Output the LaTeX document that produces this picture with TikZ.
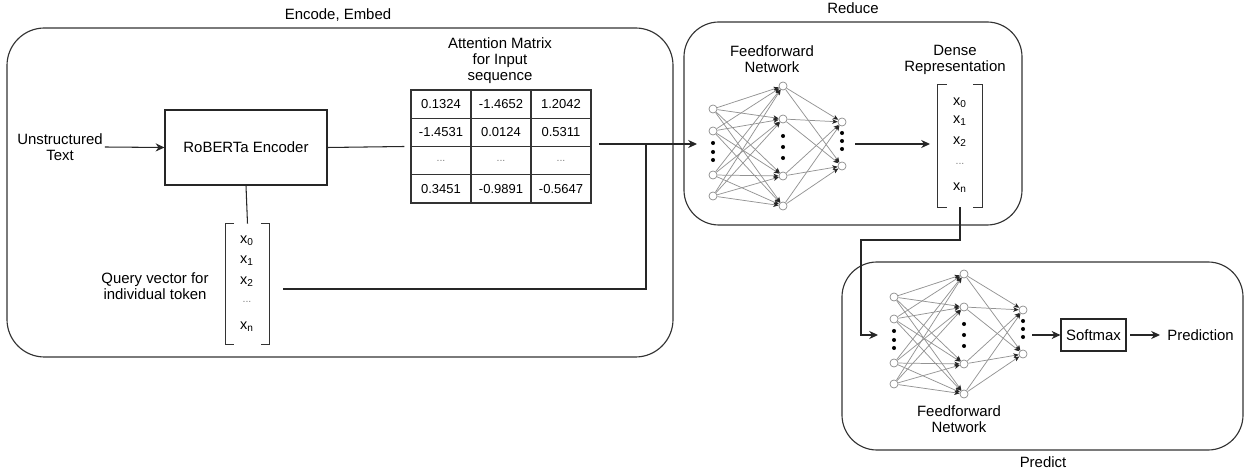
\documentclass[tikz,border=0pt]{standalone}
\usepackage{fontspec}
\setmainfont{Liberation Sans}
\usetikzlibrary{arrows.meta,matrix}

% small feed-forward network: 4 inputs, 4 hidden, 2 outputs
% #1 name prefix, #2/#3 position of the first input neuron
\newcommand{\ffnet}[3]{%
\begin{scope}[shift={(#2,#3)}]
  \foreach \k/\yy in {1/0,2/22,3/66,4/87}{\node[neuron] (#1a\k) at (0,\yy) {};}
  \foreach \k/\yy in {1/-23,2/10,3/67,4/97}{\node[neuron] (#1b\k) at (70,\yy) {};}
  \foreach \k/\yy in {1/13,2/57}{\node[neuron] (#1c\k) at (129,\yy) {};}
  \foreach \xx/\yy in {0/34,0/43,0/51,70/27,70/38,70/49,129/24,129/32,129/40}
    {\fill (\xx,\yy) circle[radius=1.15pt];}
  \foreach \i in {1,...,4}{\foreach \j in {1,...,4}{\draw[nnedge] (#1a\i) -- (#1b\j);}}
  \foreach \i in {1,...,4}{\foreach \j in {1,2}{\draw[nnedge] (#1b\i) -- (#1c\j);}}
\end{scope}}

\begin{document}
\begin{tikzpicture}[x=0.02cm,y=-0.02cm,
  font=\fontsize{8.5}{9.1}\selectfont,
  group/.style={draw=black!80, line width=0.65pt, rounded corners=0.75cm},
  conn/.style={draw=black!85, line width=0.6pt},
  arr/.style={conn, -{Stealth[length=5pt,width=4.6pt,inset=1.6pt]}},
  lbl/.style={align=center, inner sep=1pt},
  neuron/.style={circle, draw=gray!90, fill=white, minimum size=4.6pt, inner sep=0pt, line width=0.4pt},
  nnedge/.style={draw=gray!85, line width=0.42pt, -{Stealth[length=3pt,width=2.6pt,inset=0.8pt,black!85]}},
  cell/.style={draw=black!80, line width=0.6pt, minimum width=1.2cm, minimum height=0.565cm, inner sep=0pt,
               font=\fontsize{7.4}{8}\selectfont},
  gapcell/.style={text=gray, font=\fontsize{6}{7}\selectfont},
  vecbox/.style={minimum width=0.88cm, inner sep=0pt},
  vecitem/.style={font=\fontsize{8.2}{9}\selectfont, inner sep=0.5pt},
  bracket/.style={draw=black!80, line width=0.65pt},
  boxnode/.style={draw=black!85, line width=0.65pt, inner sep=0pt}
]
\useasboundingbox (0,0) rectangle (1245,469);

% stage frames
\draw[group] (7,28) rectangle (673,357);
\draw[group,rounded corners=0.7cm] (684,22) rectangle (1022,225);
\draw[group,rounded corners=0.7cm] (842,262) rectangle (1243,450);
\node[lbl] (tenc) at (338,15) {Encode, Embed};
\node[lbl] (tred) at (853,8) {Reduce};
\node[lbl] (tpre) at (1043,462) {Predict};

% encoder stage
\node[lbl] (utext) at (60,147) {Unstructured\\Text};
\node[boxnode, minimum width=3.24cm, minimum height=1.5cm] (rob) at (246,147.5) {RoBERTa Encoder};
\node[lbl] (attlbl) at (500,61) {Attention Matrix\\for Input\\sequence};
\matrix (att) [matrix of nodes, nodes={cell}, column sep=-0.6pt, row sep=-0.6pt] at (501,146.5) {
  0.1324 & -1.4652 & 1.2042 \\
  -1.4531 & 0.0124 & 0.5311 \\
  |[gapcell]| ... & |[gapcell]| ... & |[gapcell]| ... \\
  0.3451 & -0.9891 & -0.5647 \\
};
\node[lbl] (qlbl) at (155,286) {Query vector for\\individual token};

% query vector
\node[vecbox, minimum height=2.4cm] (qvec) at (247.5,284) {};
\draw[bracket] ([xshift=0.18cm]qvec.north west) -- (qvec.north west) -- (qvec.south west) -- ([xshift=0.18cm]qvec.south west);
\draw[bracket] ([xshift=-0.18cm]qvec.north east) -- (qvec.north east) -- (qvec.south east) -- ([xshift=-0.18cm]qvec.south east);
\node[vecitem] (q0) at (247,241) {x\textsubscript{0}};
\node[vecitem] (q1) at (247,261) {x\textsubscript{1}};
\node[vecitem] (q2) at (247,282) {x\textsubscript{2}};
\node[vecitem, gapcell] (q3) at (247,302) {...};
\node[vecitem] (q4) at (247,327) {x\textsubscript{n}};

\draw[arr] (utext.east) -- (rob.west);
\draw[conn] (rob.east) -- (att.west);
\draw[conn] (rob.south) -- (qvec.north);
\coordinate (mout) at (599,144);
\coordinate (jn) at (646,144);
\coordinate (rin) at (697,144);
\coordinate (qout) at (283,289);
\draw[arr] (mout) -- (rin);
\draw[conn] (qout) -| (jn);

% reduce stage
\node[lbl] (rlbl) at (772,59) {Feedforward\\Network};
\ffnet{r}{713}{109}
\node[lbl] (dlbl) at (955,60) {Dense\\Representation};
\node[vecbox, minimum height=2.44cm] (dvec) at (960,146) {};
\draw[bracket] ([xshift=0.18cm]dvec.north west) -- (dvec.north west) -- (dvec.south west) -- ([xshift=0.18cm]dvec.south west);
\draw[bracket] ([xshift=-0.18cm]dvec.north east) -- (dvec.north east) -- (dvec.south east) -- ([xshift=-0.18cm]dvec.south east);
\node[vecitem] (d0) at (960,103) {x\textsubscript{0}};
\node[vecitem] (d1) at (960,121) {x\textsubscript{1}};
\node[vecitem] (d2) at (960,142) {x\textsubscript{2}};
\node[vecitem, gapcell] (d3) at (960,164) {...};
\node[vecitem] (d4) at (960,188) {x\textsubscript{n}};
\coordinate (rout) at (855,144);
\coordinate (din) at (930,144);
\draw[arr] (rout) -- (din);

% predict stage
\ffnet{p}{894}{297}
\node[lbl] (plbl) at (959,419) {Feedforward\\Network};
\coordinate (bend) at (861,240);
\coordinate (pin) at (878,335);
\draw[arr] (dvec.south) |- (bend) |- (pin);
\node[boxnode, minimum width=1.3cm, minimum height=0.64cm] (smax) at (1093.5,335) {Softmax};
\node[lbl, anchor=west, inner sep=4pt] (pred) at (1160,335) {Prediction};
\coordinate (pout) at (1032,335);
\draw[arr] (pout) -- (smax.west);
\draw[arr] ([xshift=2pt]smax.east) -- (pred.west);
\end{tikzpicture}
\end{document}
